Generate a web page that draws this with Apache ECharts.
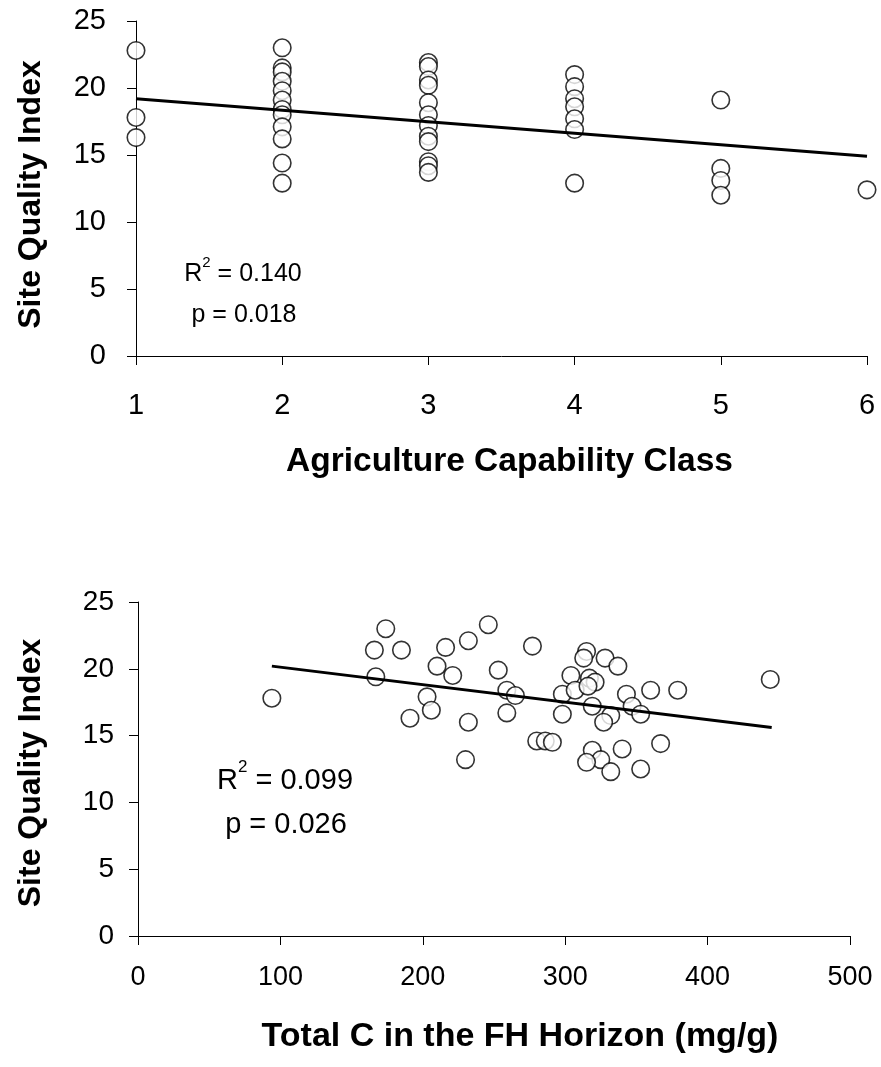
<!DOCTYPE html>
<html><head><meta charset="utf-8">
<script src="https://cdn.jsdelivr.net/npm/echarts@6/dist/echarts.min.js"></script>
<style>html,body{margin:0;padding:0;background:#fff}#c{width:881px;height:1067px}</style>
</head><body><div id="c"></div>
<script>
// ---- Top panel: Agriculture Capability Class vs Site Quality Index ----
const topClass = [1,1,1,
  2,2,2,2,2,2,2,2,2,2,2,2,
  3,3,3,3,3,3,3,3,3,3,3,3,
  4,4,4,4,4,4,4,
  5,5,5,5,
  6];
const topSQI = [22.8,17.8,16.3,
  23.0,21.5,21.2,20.5,19.8,19.1,18.4,18.0,17.1,16.2,14.4,12.9,
  21.9,21.6,20.6,20.2,18.9,18.0,17.2,16.4,16.0,14.5,14.2,13.7,
  21.0,20.1,19.2,18.6,17.7,16.9,12.9,
  19.1,14.0,13.1,12.0,
  12.4];
const topTrendX = [1, 6];
const topTrendY = [19.2, 14.9];
const topStats = ['0.140', '0.018'];

// ---- Bottom panel: Total C in FH horizon vs Site Quality Index ----
const botC = [94,174,166,185,167,216,232,210,221,203,206,191,232,230,
  246,277,253,259,265,259,280,286,291,298,298,304,307,315,313,328,337,
  317,321,316,319,332,327,343,347,353,360,379,340,367,319,325,315,332,353,444];
const botSQI = [17.8,23.0,21.4,21.4,19.4,21.6,22.1,20.2,19.5,17.9,16.9,16.3,16.0,13.2,
  23.3,21.7,19.9,18.4,18.0,16.7,14.6,14.6,14.5,18.1,16.6,19.5,18.4,21.3,20.8,20.8,20.2,
  19.3,19.0,18.7,17.2,16.5,16.0,18.1,17.2,16.6,18.4,18.4,14.0,14.4,13.9,13.2,13.0,12.3,12.5,19.2];
const botTrendX = [94, 445];
const botTrendY = [20.2, 15.6];
const botStats = ['0.099', '0.026'];

const yTicks = {min: 0, max: 25, interval: 5};

const F = 'Liberation Sans, Arial, sans-serif';

function pairs(xs, ys){ return xs.map((x,i)=>[x, ys[i]]); }

const chart = echarts.init(document.getElementById('c'), null, {renderer:'canvas'});

function axisCommon(size, margin){
  return {
    axisLine: {show: true, onZero: false, lineStyle: {color: '#000', width: 1}},
    axisTick: {show: true, inside: false, length: 9, lineStyle: {color: '#000', width: 1}},
    splitLine: {show: false},
    axisLabel: {color: '#000', fontFamily: F, fontSize: size, margin: margin}
  };
}

function statsText(x, y, py, r2, p, size){
  return [
    {type: 'text', x: x, y: y, style: {
      text: '{r|R}{s|2}{r| = ' + r2 + '}',
      align: 'center', verticalAlign: 'middle',
      rich: {
        r: {fontFamily: F, fontSize: size, fill: '#000', lineHeight: size*1.25, verticalAlign: 'bottom'},
        s: {fontFamily: F, fontSize: Math.round(size*0.6), fill: '#000', lineHeight: size*1.25, verticalAlign: 'top'}
      }
    }},
    {type: 'text', x: x + 1, y: py, style: {
      text: 'p = ' + p, align: 'center', verticalAlign: 'middle',
      fontFamily: F, fontSize: size, fill: '#000'
    }}
  ];
}

const titleStyle = (s, pad) => ({fontFamily: F, fontSize: s, fontWeight: 'bold', color: '#000', padding: pad});

const xTop = Object.assign(axisCommon(29, 35), {
  gridIndex: 0, type: 'value', min: 1, max: 6, interval: 1,
  name: 'Agriculture Capability Class', nameLocation: 'middle', nameGap: 89,
  nameTextStyle: titleStyle(33.5, [0, 0, 0, 16])
});
const xBot = Object.assign(axisCommon(27, 28), {
  gridIndex: 1, type: 'value', min: 0, max: 500, interval: 100,
  name: 'Total C in the FH Horizon (mg/g)', nameLocation: 'middle', nameGap: 84,
  nameTextStyle: titleStyle(34, [0, 0, 0, 52])
});
const yTop = Object.assign(axisCommon(29, 30), {
  gridIndex: 0, type: 'value', min: yTicks.min, max: yTicks.max, interval: yTicks.interval,
  name: 'Site Quality Index', nameLocation: 'middle', nameGap: 89, nameRotate: 90,
  nameTextStyle: titleStyle(32, [0, 12, 0, 0])
});
const yBot = Object.assign(axisCommon(28, 24), {
  gridIndex: 1, type: 'value', min: yTicks.min, max: yTicks.max, interval: yTicks.interval,
  name: 'Site Quality Index', nameLocation: 'middle', nameGap: 91, nameRotate: 90,
  nameTextStyle: titleStyle(32, [0, 8, 0, 0])
});

const marker = {color: '#fff', borderColor: '#000', borderWidth: 1.6};

chart.setOption({
  backgroundColor: '#fff',
  animation: false,
  grid: [
    {left: 136, top: 21, width: 731, height: 335},
    {left: 138, top: 602, width: 712, height: 334}
  ],
  xAxis: [xTop, xBot],
  yAxis: [yTop, yBot],
  series: [
    {type: 'scatter', xAxisIndex: 0, yAxisIndex: 0, data: pairs(topClass, topSQI),
      symbol: 'circle', symbolSize: 17.5, itemStyle: marker, z: 2},
    {type: 'line', xAxisIndex: 0, yAxisIndex: 0, data: pairs(topTrendX, topTrendY),
      symbol: 'none', lineStyle: {color: '#000', width: 3}, z: 5},
    {type: 'scatter', xAxisIndex: 1, yAxisIndex: 1, data: pairs(botC, botSQI),
      symbol: 'circle', symbolSize: 17.5, itemStyle: marker, z: 2},
    {type: 'line', xAxisIndex: 1, yAxisIndex: 1, data: pairs(botTrendX, botTrendY),
      symbol: 'none', lineStyle: {color: '#000', width: 3}, z: 5}
  ],
  graphic: [].concat(
    statsText(243, 271, 315, topStats[0], topStats[1], 25),
    statsText(285, 777, 825, botStats[0], botStats[1], 29)
  )
});
</script>
</body></html>
